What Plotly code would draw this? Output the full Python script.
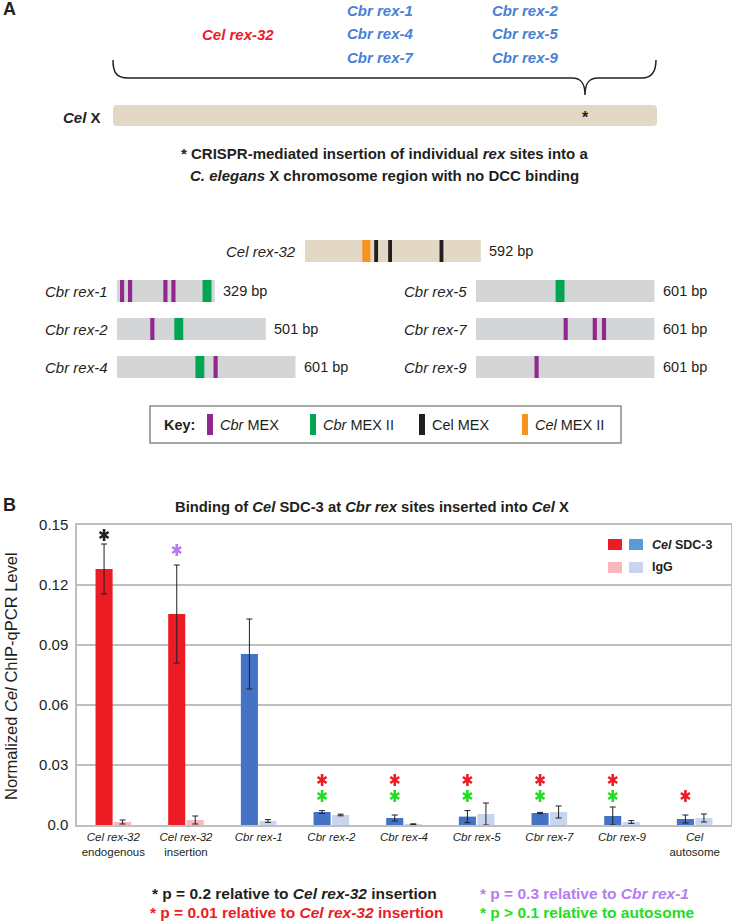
import plotly.graph_objects as go

W, H = 732, 922
FONT = "Liberation Sans, Arial, sans-serif"
INK = "#231F20"

# ---------------- panel B: ChIP-qPCR data ----------------
sites = ["Cel rex-32 endogenous", "Cel rex-32 insertion", "Cbr rex-1", "Cbr rex-2",
         "Cbr rex-4", "Cbr rex-5", "Cbr rex-7", "Cbr rex-9", "Cel autosome"]
site_labels = ["<i>Cel rex-32</i><br>endogenous", "<i>Cel rex-32</i><br>insertion",
               "<i>Cbr rex-1</i>", "<i>Cbr rex-2</i>", "<i>Cbr rex-4</i>", "<i>Cbr rex-5</i>",
               "<i>Cbr rex-7</i>", "<i>Cbr rex-9</i>", "<i>Cel</i><br>autosome"]
sdc3 = [0.128, 0.1055, 0.0855, 0.0065, 0.0035, 0.0042, 0.006, 0.0045, 0.003]
sdc3_err = [0.0125, 0.0245, 0.0175, 0.0007, 0.0015, 0.003, 0.0003, 0.0045, 0.002]
igg = [0.0015, 0.0025, 0.002, 0.005, 0.0004, 0.0055, 0.0065, 0.0015, 0.0035]
igg_err = [0.001, 0.002, 0.0007, 0.0004, 0.0002, 0.0055, 0.003, 0.0007, 0.002]
sdc3_colors = ["#ED1C24", "#ED1C24"] + ["#4472C4"] * 7
igg_colors = ["#F8B8BD", "#F8B8BD"] + ["#C8D5EE"] * 7

y_ticks = [0, 0.03, 0.06, 0.09, 0.12, 0.15]
y_ticktext = ["0.0", "0.03", "0.06", "0.09", "0.12", "0.15"]

# significance marks
star_black = ["Cel rex-32 endogenous"]
star_purple = ["Cel rex-32 insertion"]
star_red = ["Cbr rex-2", "Cbr rex-4", "Cbr rex-5", "Cbr rex-7", "Cbr rex-9", "Cel autosome"]
star_green = ["Cbr rex-2", "Cbr rex-4", "Cbr rex-5", "Cbr rex-7", "Cbr rex-9"]

# ---------------- panel A: rex site maps (bp) ----------------
rex_names = ["Cel rex-32", "Cbr rex-1", "Cbr rex-2", "Cbr rex-4", "Cbr rex-5", "Cbr rex-7", "Cbr rex-9"]
rex_lengths = [592, 329, 501, 601, 601, 601, 601]
cbr_mex = [("Cbr rex-1", 10), ("Cbr rex-1", 37), ("Cbr rex-1", 156), ("Cbr rex-1", 183),
           ("Cbr rex-2", 112), ("Cbr rex-4", 325), ("Cbr rex-7", 295), ("Cbr rex-7", 393),
           ("Cbr rex-7", 424), ("Cbr rex-9", 197)]
cbr_mex2 = [("Cbr rex-1", 288), ("Cbr rex-2", 193), ("Cbr rex-4", 264), ("Cbr rex-5", 268)]
cel_mex = [("Cel rex-32", 233), ("Cel rex-32", 280), ("Cel rex-32", 453)]
cel_mex2 = [("Cel rex-32", 193)]
motif_len = {"cbr_mex": 14, "cbr_mex2": 30, "cel_mex": 13, "cel_mex2": 27}

# layout of the maps (pixels) and scale
PX_PER_BP = 0.297
map_x0 = {"Cel rex-32": 305, "Cbr rex-1": 117, "Cbr rex-2": 117, "Cbr rex-4": 117,
          "Cbr rex-5": 476, "Cbr rex-7": 476, "Cbr rex-9": 476}
map_y = {"Cel rex-32": 251, "Cbr rex-1": 291, "Cbr rex-2": 329, "Cbr rex-4": 367,
         "Cbr rex-5": 291, "Cbr rex-7": 329, "Cbr rex-9": 367}
map_fill = {"Cel rex-32": "#E3D7C5"}
motif_colors = {"cbr_mex": "#92278F", "cbr_mex2": "#00A651", "cel_mex": INK, "cel_mex2": "#F7941D"}

xpos = list(range(len(sites)))
SDC_OFF, IGG_OFF, BAR_W = -0.245, 0.01, 0.235

fig = go.Figure()

# ---- panel B bars ----
fig.add_trace(go.Bar(
    x=xpos, y=sdc3, marker=dict(color=sdc3_colors, line_width=0),
    offset=SDC_OFF, width=BAR_W,
    error_y=dict(type="data", array=sdc3_err, color=INK, thickness=1, width=3),
    name="Cel SDC-3"))
fig.add_trace(go.Bar(
    x=xpos, y=igg, marker=dict(color=igg_colors, line_width=0),
    offset=IGG_OFF, width=BAR_W,
    error_y=dict(type="data", array=igg_err, color=INK, thickness=1, width=3),
    name="IgG"))


# stars over the SDC-3 bars, drawn as six-armed asterisks
def stars(names, y, color):
    xs = [sites.index(s) + SDC_OFF + BAR_W / 2 for s in names]
    for sym in ["y-up-open", "y-down-open"]:
        fig.add_trace(go.Scatter(
            x=xs, y=y if isinstance(y, list) else [y] * len(xs), mode="markers",
            marker=dict(symbol=sym, size=7.5, color=color, line=dict(color=color, width=2.6)),
            hoverinfo="skip"))


stars(star_black, 0.145, INK)
stars(star_purple, 0.1375, "#B57EF0")
stars(star_red, [0.0225 if s in star_green else 0.0145 for s in star_red], "#ED1C24")
stars(star_green, 0.0145, "#22DD22")

# ---- panel A maps ----
for name, length in zip(rex_names, rex_lengths):
    fig.add_trace(go.Bar(
        x=[length], y=[map_y[name]], base=[map_x0[name] / PX_PER_BP], orientation="h",
        width=22, marker=dict(color=map_fill.get(name, "#D4D5D7"), line_width=0),
        xaxis="x2", yaxis="y2", hoverinfo="skip"))

for key, motifs in [("cbr_mex", cbr_mex), ("cbr_mex2", cbr_mex2),
                    ("cel_mex", cel_mex), ("cel_mex2", cel_mex2)]:
    fig.add_trace(go.Bar(
        x=[motif_len[key]] * len(motifs),
        y=[map_y[r] for r, _ in motifs],
        base=[map_x0[r] / PX_PER_BP + s for r, s in motifs],
        orientation="h", width=22, marker=dict(color=motif_colors[key], line_width=0),
        xaxis="x2", yaxis="y2", hoverinfo="skip"))


def txt(x, y, text, size=14, color=INK, xanchor="center", angle=0):
    fig.add_annotation(x=x, y=y, xref="x3", yref="y2", text=text, showarrow=False,
                       xanchor=xanchor, yanchor="middle", textangle=angle,
                       font=dict(family=FONT, size=size, color=color))


# panel A text
txt(1, 9, "<b>A</b>", 18, xanchor="left")
txt(238, 34, "<b><i>Cel rex-32</i></b>", 15, "#ED1C24")
for i, lab in enumerate(["Cbr rex-1", "Cbr rex-4", "Cbr rex-7"]):
    txt(380, 10 + 23.5 * i, f"<b><i>{lab}</i></b>", 15, "#4A7FD4")
for i, lab in enumerate(["Cbr rex-2", "Cbr rex-5", "Cbr rex-9"]):
    txt(525, 10 + 23.5 * i, f"<b><i>{lab}</i></b>", 15, "#4A7FD4")
txt(103, 117, "<b><i>Cel</i> X</b>", 15, xanchor="right")
txt(585, 117, "<b>*</b>", 16)
txt(384, 153, "<b>* CRISPR-mediated insertion of individual <i>rex</i> sites into a</b>", 15)
txt(384, 175, "<b><i>C. elegans</i> X chromosome region with no DCC binding</b>", 15)

for name, length in zip(rex_names, rex_lengths):
    txt(map_x0[name] - 7, map_y[name], f"<i>{name}</i>", 15, xanchor="right")
    txt(map_x0[name] + length * PX_PER_BP + 6, map_y[name], f"{length} bp", 14.5, xanchor="left")

# key
txt(162, 425, "<b>Key:</b>", 14.5, xanchor="left")
key_items = [(207, "cbr_mex", "<i>Cbr</i> MEX"), (310, "cbr_mex2", "<i>Cbr</i> MEX II"),
             (419, "cel_mex", "Cel MEX"), (522, "cel_mex2", "<i>Cel</i> MEX II")]
for kx, key, lab in key_items:
    fig.add_shape(type="rect", xref="x3", yref="y2", x0=kx, x1=kx + 6, y0=414, y1=435,
                  fillcolor=motif_colors[key], line_width=0)
    txt(kx + 11, 425, lab, 14.5, xanchor="left")
fig.add_shape(type="rect", xref="x3", yref="y2", x0=150, x1=621, y0=406, y1=443,
              line=dict(color="#8A8A8A", width=1.5))

# chromosome bar and brace
fig.add_shape(type="path", xref="x3", yref="y2",
              path="M 117,105 H 653 Q 657,105 657,109 V 122 Q 657,126 653,126 H 117 "
                   "Q 113,126 113,122 V 109 Q 113,105 117,105 Z",
              fillcolor="#E3D7C5", line_width=0, layer="below")
fig.add_shape(type="path", xref="x3", yref="y2",
              path="M 113,60 C 113,72 116,78 128,78 L 572,78 C 581,78 585,83 585,95 "
                   "C 585,83 589,78 598,78 L 642,78 C 652,78 656,72 656,60",
              line=dict(color=INK, width=1.5))

# panel B text
txt(1, 505, "<b>B</b>", 18, xanchor="left")
txt(372, 507, "<b>Binding of <i>Cel</i> SDC-3 at <i>Cbr rex</i> sites inserted into <i>Cel</i> X</b>", 14.8)
txt(11, 676, "Normalized <i>Cel</i> ChIP-qPCR Level", 16.5, angle=-90)

# legend
for lx, col in [(608, "#ED1C24"), (629, "#5B9BD5")]:
    fig.add_shape(type="rect", xref="x3", yref="y2", x0=lx, x1=lx + 14, y0=539, y1=550,
                  fillcolor=col, line_width=0)
for lx, col in [(608, "#F8B8BD"), (629, "#C8D5EE")]:
    fig.add_shape(type="rect", xref="x3", yref="y2", x0=lx, x1=lx + 14, y0=562, y1=573,
                  fillcolor=col, line_width=0)
txt(650, 545, "<b><i>Cel</i> SDC-3</b>", 12.5, xanchor="left")
txt(650, 567, "<b>IgG</b>", 12.5, xanchor="left")

# footnote
txt(150, 893, "<b>* p = 0.2 relative to <i>Cel rex-32</i> insertion</b>", 15.5, INK, "left")
txt(478, 893, "<b>* p = 0.3 relative to <i>Cbr rex-1</i></b>", 15.5, "#B57EF0", "left")
txt(148, 912, "<b>* p = 0.01 relative to <i>Cel rex-32</i> insertion</b>", 15.5, "#ED1C24", "left")
txt(478, 912, "<b>* p > 0.1 relative to autosome</b>", 15.5, "#22DD22", "left")

GRID = "#BFBFBF"
fig.update_layout(
    width=W, height=H, margin=dict(l=0, r=0, t=0, b=0, autoexpand=False),
    paper_bgcolor="white", plot_bgcolor="rgba(0,0,0,0)",
    barmode="overlay", showlegend=False,
    font=dict(family=FONT, color=INK),
    xaxis=dict(domain=[77 / W, 731 / W], anchor="y", range=[-0.5, 8.5],
               tickvals=xpos, ticktext=site_labels, tickfont=dict(size=11.5, color=INK),
               showline=True, mirror=True, linecolor=GRID, linewidth=1.5,
               ticks="", showgrid=False, zeroline=False, fixedrange=True, automargin=False),
    yaxis=dict(domain=[(H - 825) / H, (H - 525) / H], anchor="x", range=[0, 0.15],
               tickvals=y_ticks, ticktext=y_ticktext, tickfont=dict(size=15, color=INK),
               showline=True, mirror=True, linecolor=GRID, linewidth=1.5,
               gridcolor=GRID, gridwidth=1.5, zeroline=False, ticks="",
               ticklabelstandoff=4, fixedrange=True, automargin=False),
    xaxis2=dict(domain=[0, 1], anchor="y2", range=[0, W / PX_PER_BP], visible=False,
                fixedrange=True, automargin=False),
    yaxis2=dict(domain=[0, 1], anchor="x2", range=[H, 0], visible=False, fixedrange=True,
                automargin=False),
    xaxis3=dict(domain=[0, 1], anchor="y2", overlaying="x2", range=[0, W], visible=False,
                fixedrange=True, automargin=False),
)

# the page's default body margin would push the figure 8px in
fig.write_html("out.html", config={"displayModeBar": False},
               post_script="document.body.style.margin = '0px';")
